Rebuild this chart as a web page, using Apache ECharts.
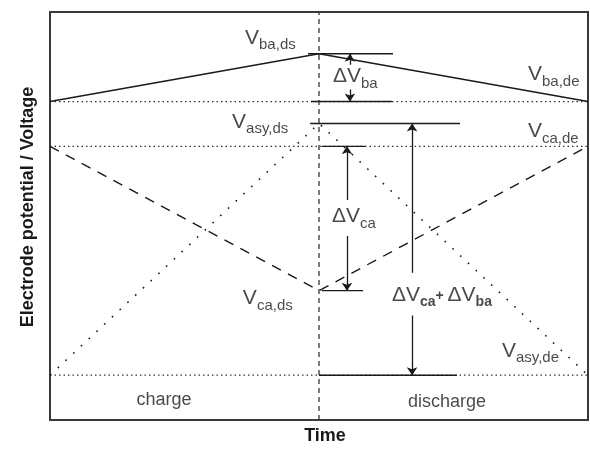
<!DOCTYPE html>
<html>
<head>
<meta charset="utf-8">
<script src="https://cdn.jsdelivr.net/npm/echarts@6/dist/echarts.min.js"></script>
<style>
  html, body { margin: 0; padding: 0; background: #fff; }
  #chart { width: 590px; height: 450px; }
</style>
</head>
<body>
<div id="chart"></div>
<script>
// Time axis: charge runs from 0 to 1, discharge from 1 to 2.
const timePoints = [0, 1, 2];
// Potential profiles (start of charge, switch point, end of discharge)
const baPotential = [3.20, 3.68, 3.20];   // V_ba
const caPotential = [2.75, 1.30, 2.75];   // V_ca
const asyPotential = [0.45, 2.98, 0.45];  // V_asy
// Dotted reference levels across the whole period
const referenceLevels = [3.20, 2.75, 0.45];
// Short solid level markers next to the switch point
const markerLevels = [3.68, 3.20, 2.98, 2.75, 1.30, 0.45];
const markerFrom = [0.959, 0.970, 0.967, 1.011, 1.011, 1.000];
const markerTo = [1.275, 1.271, 1.524, 1.171, 1.164, 1.513];
// Difference arrows: time position, upper level, lower level, gap left for the label
const diffTime = [1.115, 1.104, 1.346];
const diffUpper = [3.68, 2.75, 2.98];
const diffLower = [3.20, 1.30, 0.45];
const diffGapTop = [3.57, 2.21, 1.48];
const diffGapBottom = [3.32, 1.85, 1.05];
// Phase labels
const phaseNames = ['charge', 'discharge'];
const phaseCenters = [0.424, 1.476];
const phaseLevel = [0.200, 0.180];

const FONT = 'Liberation Sans, Arial, Helvetica, sans-serif';
const INK = '#1a1a1a';

function profile(values) {
  return timePoints.map((t, i) => [t, values[i]]);
}

// Text annotations with subscripts: [time, level, rich text]
const annotations = [
  [0.725, 3.816, '{v|V}{s|ba,ds}'],
  [1.777, 3.452, '{v|V}{s|ba,de}'],
  [0.677, 2.975, '{v|V}{s|asy,ds}'],
  [1.777, 2.880, '{v|V}{s|ca,de}'],
  [0.717, 1.200, '{v|V}{s|ca,ds}'],
  [1.680, 0.673, '{v|V}{s|asy,de}'],
  [1.052, 3.430, '{v|\u0394V}{s|ba}'],
  [1.048, 2.025, '{v|\u0394V}{s|ca}'],
  [1.271, 1.237, '{v|\u0394V}{b|ca}{p|+ }{v|\u0394V}{b|ba}']
];

const richStyles = {
  v: { fontSize: 21, fontFamily: FONT, color: INK, verticalAlign: 'bottom', padding: [0, 0, 4, 0] },
  s: { fontSize: 15, fontFamily: FONT, color: INK, verticalAlign: 'bottom' },
  b: { fontSize: 14, fontFamily: FONT, fontWeight: 'bold', color: INK, verticalAlign: 'bottom' },
  p: { fontSize: 14, fontFamily: FONT, fontWeight: 'bold', color: INK, verticalAlign: 'bottom', padding: [0, 0, 6, 0] }
};

const series = [];

// Reference dotted levels
referenceLevels.forEach(level => {
  series.push({
    type: 'line', silent: true, symbol: 'none',
    data: [[timePoints[0], level], [timePoints[2], level]],
    lineStyle: { color: '#333', width: 1.3, type: [1.5, 3] }
  });
});

// Switch from charge to discharge
series.push({
  type: 'line', silent: true, symbol: 'none',
  data: [[timePoints[1], 0], [timePoints[1], 4.1]],
  lineStyle: { color: '#333', width: 1.3, type: [5, 4] }
});

// V_ba: solid
series.push({
  type: 'line', silent: true, symbol: 'none',
  data: profile(baPotential),
  lineStyle: { color: INK, width: 1.5, type: 'solid' }
});
// V_ca: dashed
series.push({
  type: 'line', silent: true, symbol: 'none',
  data: profile(caPotential),
  lineStyle: { color: INK, width: 1.4, type: [10, 8] }
});
// V_asy: sparse dots
series.push({
  type: 'line', silent: true, symbol: 'none',
  data: profile(asyPotential),
  lineStyle: { color: INK, width: 1.6, type: [1.6, 9] }
});

// Level markers
markerLevels.forEach((level, i) => {
  series.push({
    type: 'line', silent: true, symbol: 'none',
    data: [[markerFrom[i], level], [markerTo[i], level]],
    lineStyle: { color: INK, width: 1.4 }
  });
});

// Difference arrows (two halves pointing outward)
const arrowData = [];
diffTime.forEach((t, i) => {
  arrowData.push({ coords: [[t, diffGapTop[i]], [t, diffUpper[i]]] });
  arrowData.push({ coords: [[t, diffGapBottom[i]], [t, diffLower[i]]] });
});
series.push({
  type: 'lines', coordinateSystem: 'cartesian2d', silent: true,
  symbol: ['none', 'arrow'], symbolSize: 8,
  lineStyle: { color: INK, width: 1.3, opacity: 1 },
  data: arrowData
});

// Annotations
series.push({
  type: 'scatter', silent: true, symbolSize: 0,
  data: annotations.map(a => ({
    value: [a[0], a[1]],
    label: { show: true, position: 'right', distance: 0, formatter: a[2], rich: richStyles }
  }))
});

// Phase labels
series.push({
  type: 'scatter', silent: true, symbolSize: 0,
  data: phaseNames.map((name, i) => ({
    value: [phaseCenters[i], phaseLevel[i]],
    label: {
      show: true, position: 'inside', formatter: name,
      fontSize: 18, fontFamily: FONT, color: INK
    }
  }))
});

const chart = echarts.init(document.getElementById('chart'), null, { renderer: 'canvas' });
chart.setOption({
  animation: false,
  backgroundColor: '#fff',
  grid: {
    left: 50, right: 2, top: 12, bottom: 27,
    show: true, borderColor: '#3a3a3a', borderWidth: 2, backgroundColor: 'transparent'
  },
  xAxis: {
    type: 'value', min: 0, max: 2,
    axisLine: { show: false }, axisTick: { show: false },
    axisLabel: { show: false }, splitLine: { show: false },
    name: 'Time', nameLocation: 'middle', nameGap: 7,
    nameTextStyle: {
      fontSize: 18, fontWeight: 'bold', fontFamily: FONT, color: INK,
      padding: [0, 0, 0, 12]
    }
  },
  yAxis: {
    type: 'value', min: 0, max: 4.1,
    axisLine: { show: false }, axisTick: { show: false },
    axisLabel: { show: false }, splitLine: { show: false },
    name: 'Electrode potential / Voltage', nameLocation: 'middle', nameGap: 13,
    nameTextStyle: {
      fontSize: 18, fontWeight: 'bold', fontFamily: FONT, color: INK,
      padding: [0, 0, 0, 18]
    }
  },
  series: series
});
</script>
</body>
</html>
